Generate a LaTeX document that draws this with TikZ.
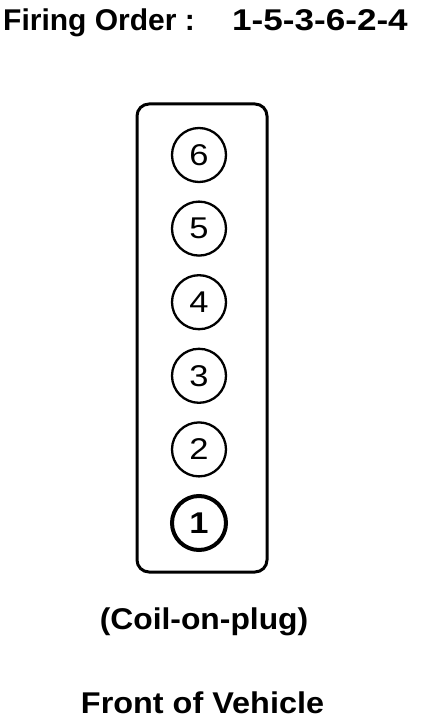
\documentclass[tikz,border=0pt]{standalone}
\usepackage{fontspec}
\setmainfont{Liberation Sans}
\usetikzlibrary{positioning}
\tikzset{
  block/.style={draw,line width=3pt,rounded corners=12pt,minimum width=130pt,minimum height=468pt,inner sep=0pt},
  cyl/.style={circle,draw,line width=2.3pt,minimum size=54pt,inner sep=0pt,font=\fontsize{30}{30}\selectfont},
  firstcyl/.style={cyl,line width=4pt,font=\fontsize{30}{30}\selectfont\bfseries},
  txt/.style={inner sep=0pt,font=\fontsize{30}{30}\selectfont\bfseries},
}
\newcommand{\wide}[2]{\scalebox{#1}[1]{#2}}

\begin{document}
\begin{tikzpicture}[x=1pt,y=-1pt]
\useasboundingbox (0,0) rectangle (432,722);

% header line
\node[txt,anchor=base west] (title) at (3,31) {Firing Order :};
\node[txt,anchor=base] (order) at (320,31) {\wide{1.17}{1-5-3-6-2-4}};

% cylinder bank, front at the bottom
\node[block] (bank) at (202,338) {};
\node[cyl] (c6) at (199,155) {\wide{1.15}{6}};
\node[cyl] (c5) at (199,228.6) {\wide{1.15}{5}};
\node[cyl] (c4) at (199,302.2) {\wide{1.15}{4}};
\node[cyl] (c3) at (199,375.8) {\wide{1.15}{3}};
\node[cyl] (c2) at (199,449.4) {\wide{1.15}{2}};
\node[firstcyl] (c1) at (199,523) {\wide{1.15}{1}};

% notes under the bank
\node[txt,anchor=base] (coil) at (204,629) {\wide{1.06}{(Coil-on-plug)}};
\node[txt,anchor=base] (front) at (202.5,713) {\wide{1.08}{Front of Vehicle}};

\end{tikzpicture}
\end{document}
